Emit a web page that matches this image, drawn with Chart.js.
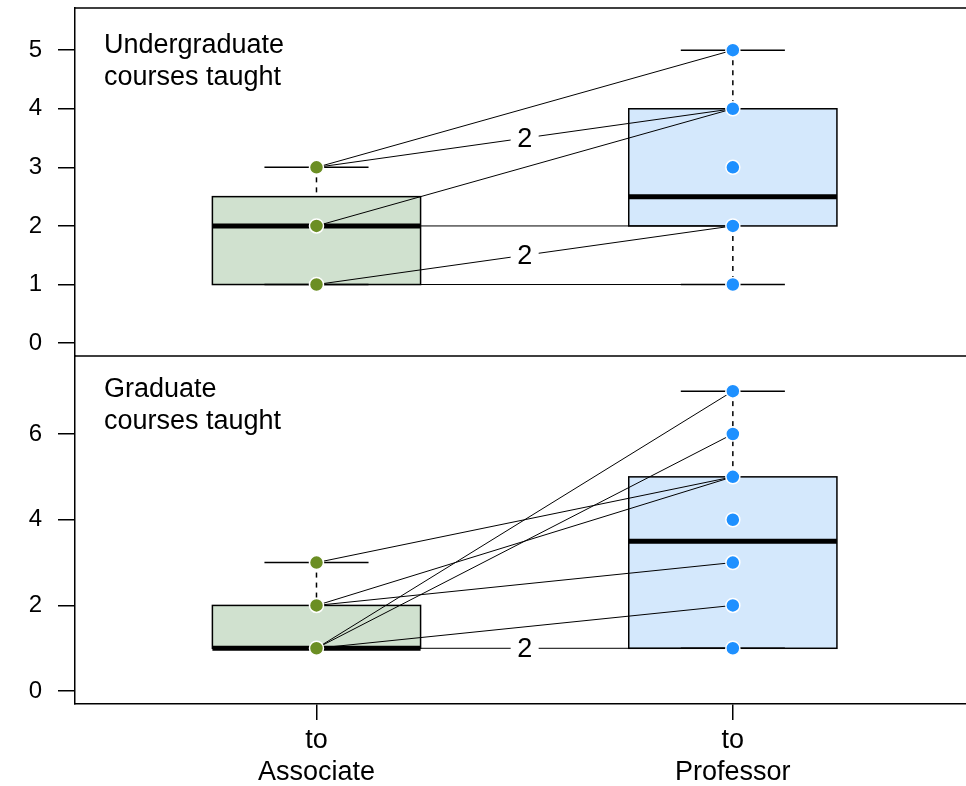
<!DOCTYPE html>
<html>
<head>
<meta charset="utf-8">
<script src="https://cdn.jsdelivr.net/npm/chart.js@4.4.0/dist/chart.umd.min.js"></script>
<style>
  html, body { margin: 0; padding: 0; background: #fff; overflow: hidden; }
  #wrap { position: relative; width: 966px; height: 786px; }
  #chart { display: block; }
</style>
</head>
<body>
<div id="wrap"><canvas id="chart"></canvas></div>
<script>
// x categories and panel captions
const groups = [["to", "Associate"], ["to", "Professor"]];
const panelTitles = [["Undergraduate", "courses taught"], ["Graduate", "courses taught"]];

// undergraduate courses: one entry per person (before / after)
const ugAssoc = [3, 3, 3, 2, 2, 1, 1, 1];
const ugProf  = [5, 4, 4, 4, 2, 2, 2, 1];
const ugAssocPoints = [1, 2, 3];
const ugProfPoints  = [1, 2, 3, 4, 5];
// box stats: [lower whisker, q1, median, q3, upper whisker]
const ugAssocBox = [1, 1, 2, 2.5, 3];
const ugProfBox  = [1, 2, 2.5, 4, 5];
const ugTicks = [0, 1, 2, 3, 4, 5];

// graduate courses
const gradAssoc = [3, 2, 2, 1, 1, 1, 1, 1];
const gradProf  = [5, 5, 3, 7, 6, 2, 1, 1];
const gradAssocPoints = [1, 2, 3];
const gradProfPoints  = [1, 2, 3, 4, 5, 6, 7];
const gradAssocBox = [1, 1, 1, 2, 3];
const gradProfBox  = [1, 1, 3.5, 5, 7];
const gradTicks = [0, 2, 4, 6];

const green = "#6b8e23", greenFill = "#d0e1cf";
const blue = "#1e90ff", blueFill = "#d4e8fc";
const FONT = "'Liberation Sans', Arial, Helvetica, sans-serif";

Chart.defaults.font.family = FONT;
Chart.defaults.color = "#000";

// collapse identical before/after pairs and count them
function uniquePairs(a, b) {
  const seen = {};
  a.forEach((v, i) => {
    const key = v + "-" + b[i];
    if (!seen[key]) seen[key] = { from: v, to: b[i], n: 0 };
    seen[key].n++;
  });
  return Object.values(seen);
}

const ugPairs = uniquePairs(ugAssoc, ugProf);
const gradPairs = uniquePairs(gradAssoc, gradProf);

function pointSet(vals, xPos, color, axis) {
  return {
    data: vals.map(v => ({ x: xPos, y: v })),
    yAxisID: axis,
    pointRadius: 7,
    pointBackgroundColor: color,
    pointBorderColor: "#fff",
    pointBorderWidth: 1.5,
    showLine: false,
    order: 0
  };
}

function lineSets(pairs, axis) {
  return pairs.map(p => ({
    data: [{ x: 1, y: p.from }, { x: 2, y: p.to }],
    yAxisID: axis,
    showLine: true,
    borderColor: "#000",
    borderWidth: 1,
    pointRadius: 0,
    order: 1
  }));
}

function drawBox(ctx, xs, ys, pos, stats, fill) {
  const [lo, q1, med, q3, hi] = stats;
  const l = xs.getPixelForValue(pos - 0.25), r = xs.getPixelForValue(pos + 0.25);
  const cl = xs.getPixelForValue(pos - 0.125), cr = xs.getPixelForValue(pos + 0.125);
  const cx = xs.getPixelForValue(pos);
  ctx.save();
  ctx.strokeStyle = "#000";
  ctx.fillStyle = fill;
  ctx.lineWidth = 1.5;
  const top = ys.getPixelForValue(q3), bot = ys.getPixelForValue(q1);
  ctx.fillRect(l, top, r - l, bot - top);
  ctx.strokeRect(l, top, r - l, bot - top);
  // whiskers
  ctx.setLineDash([5, 5]);
  ctx.beginPath();
  if (hi > q3) { ctx.moveTo(cx, ys.getPixelForValue(hi)); ctx.lineTo(cx, top); }
  if (lo < q1) { ctx.moveTo(cx, bot); ctx.lineTo(cx, ys.getPixelForValue(lo)); }
  ctx.stroke();
  ctx.setLineDash([]);
  // staples
  ctx.beginPath();
  [lo, hi].forEach(v => {
    const y = ys.getPixelForValue(v);
    ctx.moveTo(cl, y); ctx.lineTo(cr, y);
  });
  ctx.stroke();
  // median
  ctx.lineWidth = 5;
  ctx.beginPath();
  const my = ys.getPixelForValue(med);
  ctx.moveTo(l, my); ctx.lineTo(r, my);
  ctx.stroke();
  ctx.restore();
}

function drawCounts(ctx, xs, ys, pairs) {
  ctx.save();
  ctx.font = "27px " + FONT;
  ctx.textAlign = "center";
  ctx.textBaseline = "middle";
  pairs.filter(p => p.n > 1).forEach(p => {
    const x = xs.getPixelForValue(1.5);
    const y = ys.getPixelForValue((p.from + p.to) / 2);
    ctx.fillStyle = "#fff";
    ctx.fillRect(x - 14, y - 12, 28, 24);
    ctx.fillStyle = "#000";
    ctx.fillText(String(p.n), x, y + 1);
  });
  ctx.restore();
}

const boxPlugin = {
  id: "boxes",
  beforeDatasetsDraw(chart) {
    const ctx = chart.ctx, xs = chart.scales.x;
    const yt = chart.scales.yTop, yb = chart.scales.yBot;
    const area = chart.chartArea;
    // frame: top edge and panel divider
    ctx.save();
    ctx.strokeStyle = "#000";
    ctx.lineWidth = 1.5;
    ctx.beginPath();
    ctx.moveTo(area.left, yt.top); ctx.lineTo(area.right, yt.top);
    ctx.moveTo(area.left, yt.bottom); ctx.lineTo(area.right, yt.bottom);
    ctx.stroke();
    ctx.restore();
    drawBox(ctx, xs, yt, 1, ugAssocBox, greenFill);
    drawBox(ctx, xs, yt, 2, ugProfBox, blueFill);
    drawBox(ctx, xs, yb, 1, gradAssocBox, greenFill);
    drawBox(ctx, xs, yb, 2, gradProfBox, blueFill);
  },
  afterDatasetsDraw(chart) {
    const ctx = chart.ctx, xs = chart.scales.x;
    const yt = chart.scales.yTop, yb = chart.scales.yBot;
    drawCounts(ctx, xs, yt, ugPairs);
    drawCounts(ctx, xs, yb, gradPairs);
    // panel captions
    ctx.save();
    ctx.font = "27px " + FONT;
    ctx.fillStyle = "#000";
    ctx.textAlign = "left";
    ctx.textBaseline = "alphabetic";
    const tx = chart.chartArea.left + 29;
    ctx.fillText(panelTitles[0][0], tx, yt.top + 45);
    ctx.fillText(panelTitles[0][1], tx, yt.top + 77);
    ctx.fillText(panelTitles[1][0], tx, yb.top + 41);
    ctx.fillText(panelTitles[1][1], tx, yb.top + 73);
    ctx.restore();
  }
};

function yAxis(min, max, tickVals) {
  return {
    type: "linear",
    position: "left",
    stack: "panels",
    stackWeight: 1,
    min: min,
    max: max,
    afterBuildTicks: s => { s.ticks = tickVals.map(v => ({ value: v })); },
    afterFit: s => { s.width = 75; s.paddingTop = 0; s.paddingBottom = 0; },
    ticks: { font: { size: 24 }, color: "#000", padding: 16 },
    grid: { drawOnChartArea: false, tickLength: 17, color: "#000", lineWidth: 1.5 },
    border: { color: "#000", width: 1.5 }
  };
}

const datasets = [
  pointSet(ugAssocPoints, 1, green, "yTop"),
  pointSet(ugProfPoints, 2, blue, "yTop"),
  pointSet(gradAssocPoints, 1, green, "yBot"),
  pointSet(gradProfPoints, 2, blue, "yBot"),
  ...lineSets(ugPairs, "yTop"),
  ...lineSets(gradPairs, "yBot")
];

new Chart(document.getElementById("chart"), {
  type: "scatter",
  data: { datasets: datasets },
  options: {
    responsive: true,
    maintainAspectRatio: false,
    animation: false,
    events: [],
    layout: { autoPadding: false, padding: { top: 8, left: 0, right: 0, bottom: 0 } },
    plugins: { legend: { display: false }, tooltip: { enabled: false } },
    scales: {
      x: {
        type: "linear",
        position: "bottom",
        min: 0.42,
        max: 2.56,
        afterBuildTicks: s => { s.ticks = [{ value: 1 }, { value: 2 }]; },
        afterFit: s => { s.height = 82; s.paddingLeft = 0; s.paddingRight = 0; },
        ticks: {
          callback: (v, i) => groups[i],
          font: { size: 27, lineHeight: 1.2 },
          color: "#000",
          padding: 4,
          maxRotation: 0,
          autoSkip: false
        },
        grid: { drawOnChartArea: false, tickLength: 16, color: "#000", lineWidth: 1.5 },
        border: { color: "#000", width: 1.5 }
      },
      yBot: yAxis(-0.3, 7.82, gradTicks),
      yTop: yAxis(-0.22, 5.72, ugTicks)
    }
  },
  plugins: [boxPlugin]
});
</script>
</body>
</html>
